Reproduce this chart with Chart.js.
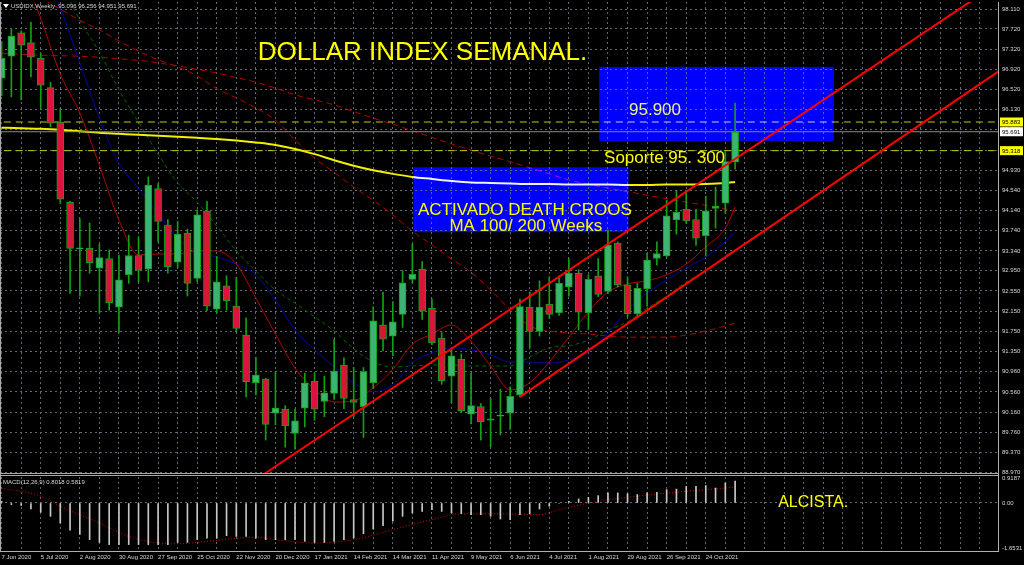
<!DOCTYPE html>
<html>
<head>
<meta charset="utf-8">
<title>Dollar Index semanal</title>
<script src="https://cdn.jsdelivr.net/npm/chart.js@4.4.1/dist/chart.umd.min.js"></script>
<style>
  html, body { margin: 0; padding: 0; background: #000; overflow: hidden; }
  canvas { display: block; }
</style>
</head>
<body>
<canvas id="dxyChart" width="1024" height="565"></canvas>
<script>
// weekly USDIDX candles, week 0 = 7 Jun 2020
const opens  = [96.75, 97.18, 97.64, 97.45, 97.14, 96.56, 95.88, 94.30, 93.38, 93.39,
                93.00, 93.19, 92.23, 92.87, 93.25, 92.98, 94.57, 93.85, 93.12, 93.69,
                92.80, 94.13, 92.19, 92.65, 92.25, 91.68, 90.74, 90.81, 90.14, 90.22,
                89.74, 90.24, 90.77, 90.37, 90.53, 91.09, 90.41, 90.27, 90.74, 91.88,
                91.66, 92.09, 92.78, 92.98, 92.21, 91.62, 90.87, 91.20, 90.12, 90.27,
                90.00, 90.08, 90.14, 90.50, 92.23, 91.75, 92.29, 92.12, 92.63, 92.90,
                92.12, 92.85, 92.54, 93.49, 92.67, 92.10, 92.59, 93.19, 93.24, 93.95,
                94.16, 93.96, 93.64, 94.18, 94.28, 95.096];
const highs  = [97.47, 97.71, 97.68, 97.85, 97.24, 96.67, 96.15, 94.32, 93.98, 93.89,
                93.47, 93.36, 93.26, 93.65, 93.62, 94.80, 94.67, 93.96, 93.92, 93.77,
                94.15, 94.32, 93.23, 92.85, 92.82, 92.02, 91.24, 90.83, 90.95, 90.29,
                90.22, 90.93, 90.93, 90.87, 91.60, 91.23, 91.04, 91.04, 92.24, 92.53,
                92.34, 92.95, 93.48, 93.13, 92.39, 91.73, 91.39, 91.31, 90.93, 90.33,
                90.43, 90.61, 90.66, 92.39, 92.53, 92.75, 92.83, 92.85, 93.19, 92.97,
                92.87, 93.19, 93.75, 93.52, 92.83, 92.70, 93.30, 93.52, 94.34, 94.53,
                94.53, 94.16, 94.42, 94.60, 95.30, 96.256];
const lows   = [96.40, 96.38, 96.32, 96.77, 96.15, 95.79, 94.28, 92.50, 92.45, 92.90,
                92.11, 92.17, 91.73, 92.70, 92.73, 92.73, 93.52, 92.90, 93.00, 92.45,
                92.73, 92.16, 92.11, 92.17, 91.75, 90.46, 90.50, 89.61, 89.91, 89.47,
                89.43, 89.87, 90.00, 90.07, 90.41, 90.23, 90.07, 89.66, 90.63, 91.37,
                91.27, 91.83, 92.71, 91.99, 91.49, 90.71, 90.35, 90.15, 89.93, 89.61,
                89.48, 89.71, 89.82, 90.46, 91.42, 91.66, 92.01, 92.07, 92.45, 91.78,
                91.79, 92.44, 92.50, 92.63, 92.04, 92.06, 92.25, 93.06, 93.22, 93.67,
                93.88, 93.45, 93.24, 93.79, 94.08, 94.951];
const closes = [97.14, 97.58, 97.40, 97.16, 96.61, 95.86, 94.36, 93.39, 93.40, 93.11,
                93.21, 92.32, 92.77, 93.25, 92.96, 94.64, 93.92, 93.03, 93.67, 92.70,
                94.05, 92.25, 92.73, 92.36, 91.81, 90.76, 90.89, 89.92, 90.24, 89.89,
                89.99, 90.74, 90.22, 90.54, 90.97, 90.43, 90.35, 90.96, 91.96, 91.60,
                91.94, 92.71, 92.88, 92.15, 91.53, 90.78, 91.27, 90.19, 90.29, 89.97,
                90.03, 90.10, 90.47, 92.24, 91.75, 92.23, 92.09, 92.70, 92.90, 92.13,
                92.78, 92.48, 93.46, 92.67, 92.10, 92.60, 93.16, 93.29, 94.03, 94.10,
                93.93, 93.59, 94.13, 94.22, 95.10, 95.691];

// one date label every 4 weeks
const dateLabels = ['7 Jun 2020', '5 Jul 2020', '2 Aug 2020', '30 Aug 2020', '27 Sep 2020',
                    '25 Oct 2020', '22 Nov 2020', '20 Dec 2020', '17 Jan 2021', '14 Feb 2021',
                    '14 Mar 2021', '11 Apr 2021', '9 May 2021', '6 Jun 2021', '4 Jul 2021',
                    '1 Aug 2021', '29 Aug 2021', '26 Sep 2021', '24 Oct 2021'];
const priceTicks = [98.110, 97.720, 97.320, 96.920, 96.520, 96.130, 95.730, 95.330, 94.930,
                    94.540, 94.140, 93.740, 93.340, 92.950, 92.550, 92.150, 91.750, 91.350,
                    90.960, 90.560, 90.160, 89.760, 89.370, 88.970];
const macdTicks = [0.9187, 0, -1.6531];

// moving averages, every 2 weeks
const maWeeks = [0, 2, 4, 6, 8, 10, 12, 14, 16, 18, 20, 22, 24, 26, 28, 30, 32, 34, 36, 38,
                 40, 42, 44, 46, 48, 50, 52, 54, 56, 58, 60, 62, 64, 66, 68, 70, 72, 74, 75];
const redMA    = [99.87, 98.92, 97.93, 96.83, 96.06, 95.03, 93.95, 93.26, 93.28, 93.28,
                  93.34, 93.34, 93.08, 92.41, 91.70, 91.03, 90.61, 90.36, 90.38, 90.64,
                  91.00, 91.50, 91.70, 91.88, 91.56, 91.07, 90.60, 90.74, 91.15, 91.64,
                  92.14, 92.53, 92.69, 92.75, 92.87, 93.08, 93.42, 93.79, 94.21];
const blueMA   = [100.06, 99.47, 98.98, 98.13, 97.05, 95.96, 95.07, 94.58, 94.07, 93.59,
                  93.32, 93.22, 93.08, 92.87, 92.37, 91.78, 91.39, 91.05, 90.74, 90.56,
                  90.70, 91.13, 91.33, 91.43, 91.39, 91.29, 91.15, 91.15, 91.13, 91.19,
                  91.35, 91.72, 92.18, 92.51, 92.77, 93.00, 93.22, 93.52, 93.71];
const greenMA  = [100.66, 100.17, 99.47, 98.68, 97.89, 97.26, 96.52, 95.88, 95.25, 94.68,
                  94.30, 93.83, 93.34, 92.94, 92.57, 92.31, 92.04, 91.76, 91.41, 91.15,
                  91.05, 91.07, 91.09, 91.09, 91.07, 91.07, 91.07, 91.25, 91.43, 91.47,
                  91.58, 91.78, 91.94, 92.21, 92.45, 92.73, 92.94, 93.24, 93.36];
const darkRedA = [98.78, 98.56, 98.33, 98.11, 97.89, 97.70, 97.48, 97.28, 97.11, 96.97,
                  96.79, 96.54, 96.36, 96.16, 95.92, 95.53, 95.17, 94.89, 94.60, 94.34,
                  94.05, 93.73, 93.46, 93.18, 92.92, 92.57, 92.18, 91.86, 91.76, 91.72,
                  91.70, 91.66, 91.64, 91.64, 91.64, 91.68, 91.76, 91.86, 91.92];
const darkRedB = [97.24, 97.22, 97.20, 97.19, 97.18, 97.16, 97.13, 97.10, 97.05, 96.99,
                  96.92, 96.85, 96.76, 96.67, 96.55, 96.42, 96.32, 96.22, 96.09, 95.96,
                  95.84, 95.71, 95.58, 95.45, 95.33, 95.21, 95.10, 94.98, 94.86, 94.74,
                  94.66, 94.58, 94.51, 94.44, 94.37, 94.30, 94.24, 94.17, 94.11];
const yellowMA = [95.77, 95.76, 95.75, 95.73, 95.70, 95.67, 95.65, 95.63, 95.61, 95.59,
                  95.57, 95.55, 95.52, 95.48, 95.43, 95.35, 95.25, 95.13, 95.02, 94.93,
                  94.86, 94.80, 94.76, 94.72, 94.69, 94.68, 94.67, 94.66, 94.66, 94.65,
                  94.65, 94.65, 94.64, 94.64, 94.65, 94.65, 94.66, 94.68, 94.70];

// MACD(12,26,9) histogram and signal
const macdHist = [0.06, -0.06, -0.09, -0.22, -0.34, -0.49, -0.74, -1.00, -1.16, -1.35,
                  -1.45, -1.53, -1.53, -1.53, -1.53, -1.53, -1.53, -1.53, -1.45, -1.45,
                  -1.35, -1.29, -1.29, -1.20, -1.23, -1.23, -1.29, -1.35, -1.35, -1.35,
                  -1.35, -1.41, -1.45, -1.45, -1.41, -1.35, -1.29, -1.13, -0.96, -0.83,
                  -0.67, -0.49, -0.37, -0.31, -0.25, -0.31, -0.37, -0.39, -0.43, -0.43,
                  -0.49, -0.59, -0.61, -0.43, -0.40, -0.22, -0.12, -0.02, 0.06, 0.15,
                  0.21, 0.27, 0.37, 0.37, 0.34, 0.31, 0.37, 0.39, 0.49, 0.51,
                  0.61, 0.61, 0.64, 0.55, 0.74, 0.8018];
const sigWeeks  = [0, 4, 6, 10, 13, 16, 18, 21, 26, 28, 32, 36, 40, 44, 47, 51, 55, 57, 61, 65, 70, 75];
const sigValues = [0.55, 0.25, -0.12, -0.74, -1.23, -1.47, -1.50, -1.41, -1.26, -1.35, -1.47,
                   -1.35, -0.98, -0.61, -0.40, -0.40, -0.43, -0.25, 0.06, 0.25, 0.43, 0.5819];

// horizontal levels: resistance, last price, support
const levels = [95.883, 95.691, 95.318];

// channel lines (two anchors each)
const upperWeeks = [26.84, 100];
const upperPrices = [88.94, 98.38];
const lowerWeeks = [53, 102];
const lowerPrices = [90.46, 96.89];

// blue rectangles
const boxFromWeek = [61.1, 42.1];
const boxToWeek   = [85.1, 64.1];
const boxHigh     = [96.97, 94.99];
const boxLow      = [95.51, 93.71];

const UP = '#3cb371';
const DOWN = '#dc143c';
const OUTLINE = '#14a014';
const GRID = '#5f6873';
const FONT = '"Liberation Sans", Arial, sans-serif';

Chart.defaults.font.family = FONT;

const weeks = opens.map((v, i) => i);

function pts(xs, ys) {
    return xs.map((x, i) => ({x: x, y: ys[i]}));
}

function maLine(values, color, width, dash) {
    return {
        type: 'line',
        data: pts(maWeeks, values),
        borderColor: color,
        borderWidth: width,
        borderDash: dash || [],
        pointRadius: 0,
        cubicInterpolationMode: 'monotone',
        yAxisID: 'y',
        order: 4
    };
}

function levelLine(value, color, dash) {
    return {
        type: 'line',
        data: [{x: -1, y: value}, {x: 104, y: value}],
        borderColor: color,
        borderWidth: 1,
        borderDash: dash,
        pointRadius: 0,
        yAxisID: 'y',
        order: 3
    };
}

// keep the panes exactly as tall as their stack weights
function fixWidth(s) {
    s.width = 26;
    s.paddingTop = 0;
    s.paddingBottom = 0;
}

const overlay = {
    id: 'overlay',
    beforeDraw(chart) {
        const ctx = chart.ctx;
        ctx.save();
        ctx.fillStyle = '#000';
        ctx.fillRect(0, 0, chart.width, chart.height);
        ctx.restore();
        chart.$boxesDone = false;
    },
    // rectangles go in under the candles, blended over the lines like MT4 does
    beforeDatasetDraw(chart, args) {
        if (chart.$boxesDone || !chart.data.datasets[args.index].boxBelow) return;
        chart.$boxesDone = true;
        const {ctx, scales: {x, y}} = chart;
        ctx.save();
        ctx.globalCompositeOperation = 'difference';
        ctx.fillStyle = '#0000ff';
        for (let i = 0; i < boxFromWeek.length; i++) {
            const l = x.getPixelForValue(boxFromWeek[i]);
            const r = x.getPixelForValue(boxToWeek[i]);
            const t = y.getPixelForValue(boxHigh[i]);
            const b = y.getPixelForValue(boxLow[i]);
            ctx.fillRect(l, t, r - l, b - t);
        }
        ctx.restore();
    },
    afterDatasetsDraw(chart) {
        const {ctx, scales: {x, y, y2}} = chart;
        ctx.save();
        ctx.textBaseline = 'alphabetic';
        ctx.textAlign = 'left';
        ctx.fillStyle = '#ffff00';
        ctx.font = '26px ' + FONT;
        ctx.fillText('DOLLAR INDEX SEMANAL.', x.getPixelForValue(26.2), y.getPixelForValue(97.106));
        ctx.font = '17px ' + FONT;
        ctx.fillStyle = '#f0f090';
        ctx.fillText('95.900', x.getPixelForValue(64.15), y.getPixelForValue(96.02));
        ctx.fillStyle = '#ffff00';
        ctx.fillText('Soporte 95. 300', x.getPixelForValue(61.6), y.getPixelForValue(95.07));
        ctx.textAlign = 'center';
        ctx.fillText('ACTIVADO DEATH CROOS', x.getPixelForValue(53.5), y.getPixelForValue(94.05));
        ctx.fillText('MA 100/ 200 Weeks', x.getPixelForValue(53.6), y.getPixelForValue(93.73));
        ctx.textAlign = 'left';
        ctx.font = '16px ' + FONT;
        ctx.fillText('ALCISTA.', x.getPixelForValue(79.4), y2.getPixelForValue(-0.14));
        ctx.restore();
    },
    afterDraw(chart) {
        const {ctx, chartArea, scales: {y, y2}} = chart;
        const last = opens.length - 1;
        ctx.save();

        // panel frames
        ctx.strokeStyle = '#a8a8a8';
        ctx.lineWidth = 1;
        const sep = Math.round(y.bottom) - 0.5;
        ctx.beginPath();
        ctx.moveTo(0, sep);
        ctx.lineTo(chartArea.right, sep);
        ctx.moveTo(0, sep + 2);
        ctx.lineTo(chartArea.right, sep + 2);
        ctx.moveTo(0.5, chartArea.top);
        ctx.lineTo(0.5, chartArea.bottom);
        ctx.stroke();

        // price marks on the axis
        ctx.font = '6px ' + FONT;
        ctx.textBaseline = 'middle';
        ctx.textAlign = 'left';
        const fills = ['#ffff00', '#ffffff', '#ffff00'];
        levels.forEach((v, i) => {
            const py = y.getPixelForValue(v);
            ctx.fillStyle = fills[i];
            ctx.fillRect(chartArea.right + 2, py - 4.5, 23, 9);
            ctx.fillStyle = '#000';
            ctx.fillText(v.toFixed(3), chartArea.right + 4, py + 0.5);
        });

        // window captions
        ctx.fillStyle = '#ffffff';
        ctx.beginPath();
        ctx.moveTo(3, 4);
        ctx.lineTo(9, 4);
        ctx.lineTo(6, 8);
        ctx.closePath();
        ctx.fill();
        ctx.fillStyle = '#d8d8d8';
        const ohlc = [opens[last], highs[last], lows[last], closes[last]].map(v => v.toFixed(3)).join(' ');
        ctx.fillText('USDIDX,Weekly  ' + ohlc, 11, 6.5);
        ctx.fillText('MACD(12,26,9) ' + macdHist[last].toFixed(4) + ' ' +
                     sigValues[sigValues.length - 1].toFixed(4), 3, y2.top + 8);
        ctx.restore();
    }
};

const config = {
    type: 'bar',
    data: {
        datasets: [
            {
                type: 'line',
                data: pts(upperWeeks, upperPrices),
                borderColor: '#ff0000', borderWidth: 2, pointRadius: 0,
                yAxisID: 'y', order: 0
            },
            {
                type: 'line',
                data: pts(lowerWeeks, lowerPrices),
                borderColor: '#ff0000', borderWidth: 2, pointRadius: 0,
                yAxisID: 'y', order: 0
            },
            {
                data: weeks.map(i => ({x: i, y: [opens[i], closes[i]]})),
                backgroundColor: weeks.map(i => closes[i] >= opens[i] ? UP : DOWN),
                borderColor: OUTLINE, borderWidth: 1, borderSkipped: false,
                barThickness: 7, grouped: false,
                yAxisID: 'y', order: 1
            },
            {
                boxBelow: true,
                data: weeks.map(i => ({x: i, y: [lows[i], highs[i]]})),
                backgroundColor: OUTLINE,
                barThickness: 1, grouped: false,
                yAxisID: 'y', order: 2
            },
            levelLine(levels[0], '#c8c800', [7, 5]),
            levelLine(levels[1], '#8a8a8a', []),
            levelLine(levels[2], '#c8c800', [7, 5]),
            maLine(yellowMA, '#f0f000', 2),
            maLine(redMA, '#b40000', 1),
            maLine(blueMA, '#0000a8', 1),
            maLine(greenMA, '#006400', 1, [4, 3]),
            maLine(darkRedA, '#b00000', 1, [6, 4]),
            maLine(darkRedB, '#b00000', 1, [6, 4]),
            {
                data: weeks.map(i => ({x: i, y: macdHist[i]})),
                backgroundColor: '#c8c8c8',
                barThickness: 1, grouped: false,
                yAxisID: 'y2', order: 5
            },
            {
                type: 'line',
                data: pts(sigWeeks, sigValues),
                borderColor: '#d00000', borderWidth: 1, borderDash: [1, 2],
                pointRadius: 0, cubicInterpolationMode: 'monotone',
                yAxisID: 'y2', order: 5
            }
        ]
    },
    options: {
        responsive: false,
        animation: false,
        devicePixelRatio: 1,
        layout: {padding: {top: 2, left: 0, right: 0, bottom: 0}},
        plugins: {legend: {display: false}, tooltip: {enabled: false}},
        scales: {
            x: {
                type: 'linear',
                min: -0.1636,
                max: 101.88,
                offset: false,
                afterBuildTicks: s => {
                    const t = [];
                    for (let v = 0; v <= 100; v += 2) t.push({value: v});
                    s.ticks = t;
                },
                afterFit: s => { s.height = 14; s.paddingLeft = 0; s.paddingRight = 0; },
                ticks: {
                    autoSkip: false, maxRotation: 0, align: 'start', padding: 3,
                    color: '#d8d8d8', font: {size: 6},
                    callback: v => (v % 4 === 0 && dateLabels[v / 4]) ? dateLabels[v / 4] : ''
                },
                grid: {color: GRID, offset: false, drawTicks: false},
                border: {display: true, color: '#b0b0b0', dash: [2, 3]}
            },
            y: {
                type: 'linear',
                position: 'right',
                stack: 'panes',
                stackWeight: 472,
                min: 88.94,
                max: 98.25,
                afterBuildTicks: s => { s.ticks = priceTicks.map(v => ({value: v})); },
                afterFit: fixWidth,
                ticks: {
                    autoSkip: false, padding: 4, color: '#d8d8d8', font: {size: 6},
                    callback: v => v.toFixed(3)
                },
                grid: {color: GRID, drawTicks: false},
                border: {display: true, color: '#b0b0b0', dash: [2, 3]}
            },
            y2: {
                type: 'linear',
                position: 'right',
                stack: 'panes',
                stackWeight: 77,
                min: -1.765,
                max: 1.066,
                afterBuildTicks: s => { s.ticks = macdTicks.map(v => ({value: v})); },
                afterFit: fixWidth,
                ticks: {
                    autoSkip: false, padding: 4, color: '#d8d8d8', font: {size: 6},
                    callback: v => v === 0 ? '0.00' : v.toFixed(4)
                },
                grid: {
                    color: c => (c.tick && c.tick.value === 0) ? GRID : 'rgba(0,0,0,0)',
                    drawTicks: false
                },
                border: {display: true, color: '#b0b0b0', dash: [2, 3]}
            }
        }
    },
    plugins: [overlay]
};

const dxyChart = new Chart(document.getElementById('dxyChart'), config);
</script>
</body>
</html>
